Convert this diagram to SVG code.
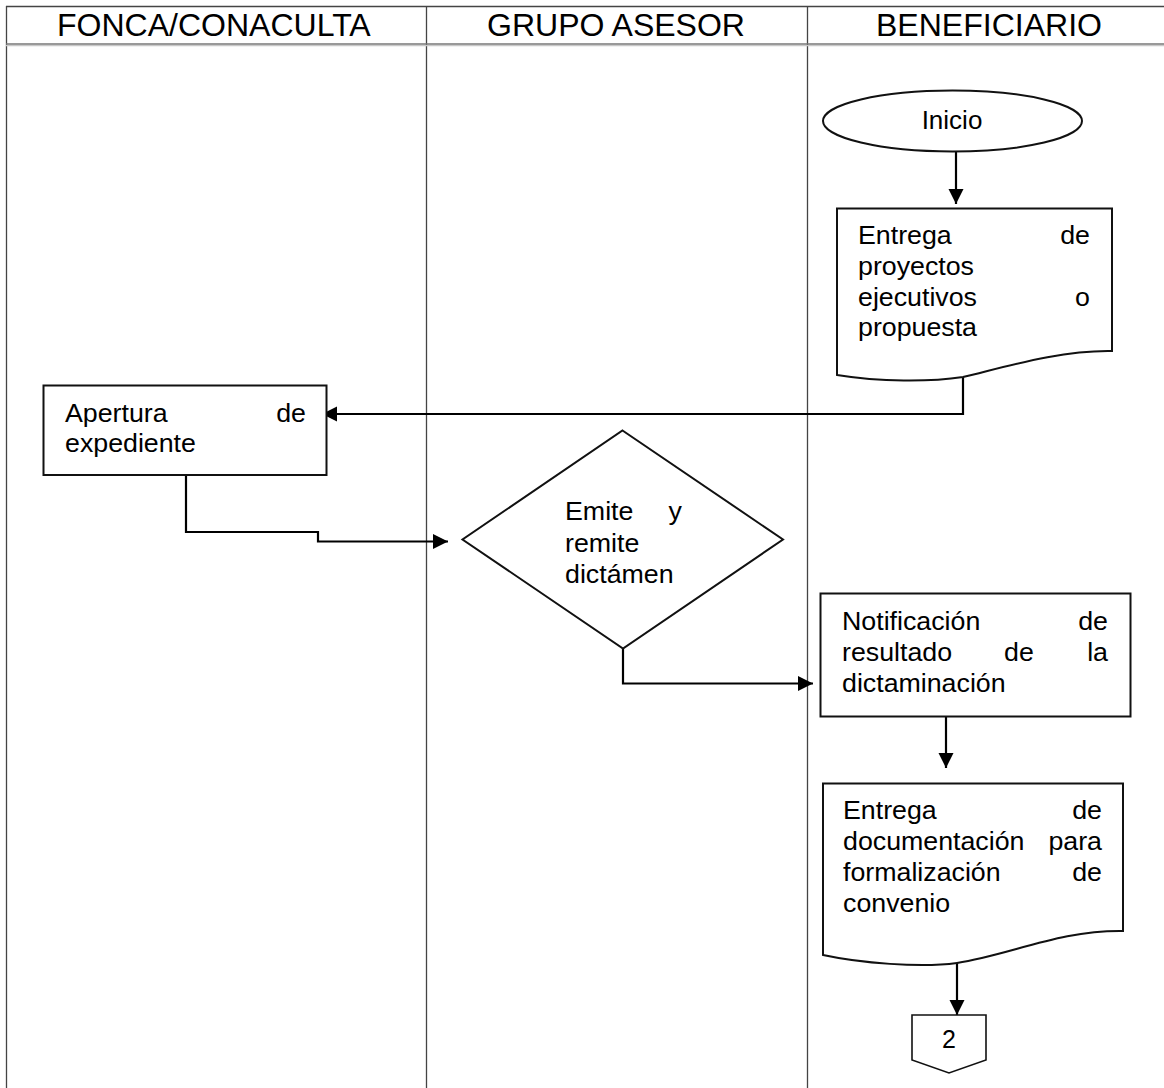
<svg xmlns="http://www.w3.org/2000/svg" width="1164" height="1088" viewBox="0 0 1164 1088">
<style>
.lane{stroke:#444;stroke-width:1.3;fill:none}
.shape{fill:#fff;stroke:#111;stroke-width:2}
.conn{fill:none;stroke:#000;stroke-width:2.2}
.hd{font-family:"Liberation Sans",Arial,sans-serif;font-size:30.5px;fill:#000}
.t{font-family:"Liberation Sans",Arial,sans-serif;font-size:25.5px;fill:#000}
.e{text-anchor:end}
.m{text-anchor:middle}
</style>
<defs>
<marker id="ah" markerUnits="userSpaceOnUse" markerWidth="16" markerHeight="16" viewBox="0 0 16 16" refX="15" refY="8" orient="auto">
<path d="M0,0.5 L15,8 L0,15.5 z" fill="#000"/>
</marker>
</defs>
<rect width="1164" height="1088" fill="#fff"/>
<g id="lanes">
<line class="lane" x1="6" y1="6.5" x2="1164" y2="6.5"/>
<line class="lane" x1="6.5" y1="6" x2="6.5" y2="1088"/>
<line class="lane" x1="426.5" y1="6" x2="426.5" y2="1088"/>
<line class="lane" x1="807.5" y1="6" x2="807.5" y2="1088"/>
<line x1="6" y1="44" x2="1164" y2="44" stroke="#777" stroke-width="1.6"/>
<line x1="6" y1="45.6" x2="1164" y2="45.6" stroke="#c8c8c8" stroke-width="1.2"/>
<text class="hd" transform="translate(57,36) scale(1.05,1)">FONCA/CONACULTA</text>
<text class="hd" transform="translate(487,36) scale(1.05,1)">GRUPO ASESOR</text>
<text class="hd" transform="translate(876,36) scale(1.05,1)">BENEFICIARIO</text>
</g>
<g id="connectors">
<path class="conn" d="M956,151 L956,204" marker-end="url(#ah)"/>
<path class="conn" d="M963,377 L963,414 L322,414" marker-end="url(#ah)"/>
<path class="conn" d="M186,475 L186,532 L318,532 L318,541.5 L448,541.5" marker-end="url(#ah)"/>
<path class="conn" d="M623,648 L623,683.5 L813,683.5" marker-end="url(#ah)"/>
<path class="conn" d="M946,717 L946,768" marker-end="url(#ah)"/>
<path class="conn" d="M957,963 L957,1015" marker-end="url(#ah)"/>
</g>
<g id="inicio">
<ellipse class="shape" cx="952.5" cy="121" rx="129.5" ry="30.5"/>
<text x="952" y="129" style="font-family:'Liberation Sans',Arial,sans-serif;font-size:26px" text-anchor="middle">Inicio</text>
</g>
<g id="entrega-proyectos">
<path class="shape" d="M837,208.5 L1112,208.5 L1112,351 C1060,350 1005,367 963,377 C930,382 880,382 837,375 Z"/>
<text class="t" transform="translate(858,244) scale(1.05,1)">Entrega</text>
<text class="t e" transform="translate(1090,244) scale(1.05,1)">de</text>
<text class="t" transform="translate(858,274.5) scale(1.05,1)">proyectos</text>
<text class="t" transform="translate(858,305.5) scale(1.05,1)">ejecutivos</text>
<text class="t e" transform="translate(1090,305.5) scale(1.05,1)">o</text>
<text class="t" transform="translate(858,336) scale(1.05,1)">propuesta</text>
</g>
<g id="apertura">
<rect class="shape" x="43.5" y="385.5" width="283" height="89.5"/>
<text class="t" transform="translate(65,421.5) scale(1.05,1)">Apertura</text>
<text class="t e" transform="translate(306,421.5) scale(1.05,1)">de</text>
<text class="t" transform="translate(65,452) scale(1.05,1)">expediente</text>
</g>
<g id="dictamen">
<path class="shape" d="M622.5,430.5 L783,539.5 L623,648.5 L462.5,539.5 Z"/>
<text class="t" transform="translate(565,520) scale(1.05,1)">Emite</text>
<text class="t e" transform="translate(682,520) scale(1.05,1)">y</text>
<text class="t" transform="translate(565,551.5) scale(1.05,1)">remite</text>
<text class="t" transform="translate(565,583) scale(1.05,1)">dictámen</text>
</g>
<g id="notificacion">
<rect class="shape" x="820.5" y="593.5" width="310" height="123"/>
<text class="t" transform="translate(842,630) scale(1.05,1)">Notificación</text>
<text class="t e" transform="translate(1108,630) scale(1.05,1)">de</text>
<text class="t" transform="translate(842,661) scale(1.05,1)">resultado</text>
<text class="t m" transform="translate(1019,661) scale(1.05,1)">de</text>
<text class="t e" transform="translate(1108,661) scale(1.05,1)">la</text>
<text class="t" transform="translate(842,692) scale(1.05,1)">dictaminación</text>
</g>
<g id="entrega-documentacion">
<path class="shape" d="M823,783.5 L1123,783.5 L1123,931 C1060,930 1010,955 957,963 C920,968 860,963 823,955 Z"/>
<text class="t" transform="translate(843,819) scale(1.05,1)">Entrega</text>
<text class="t e" transform="translate(1102,819) scale(1.05,1)">de</text>
<text class="t" transform="translate(843,850) scale(1.05,1)">documentación</text>
<text class="t e" transform="translate(1102,850) scale(1.05,1)">para</text>
<text class="t" transform="translate(843,881) scale(1.05,1)">formalización</text>
<text class="t e" transform="translate(1102,881) scale(1.05,1)">de</text>
<text class="t" transform="translate(843,912) scale(1.05,1)">convenio</text>
</g>
<g id="conector-2">
<path class="shape" style="stroke-width:1.6" d="M912,1015 L986,1015 L986,1060 L949,1073 L912,1060 Z"/>
<text x="949" y="1048" style="font-family:'Liberation Sans',Arial,sans-serif;font-size:25px" text-anchor="middle">2</text>
</g>
</svg>
